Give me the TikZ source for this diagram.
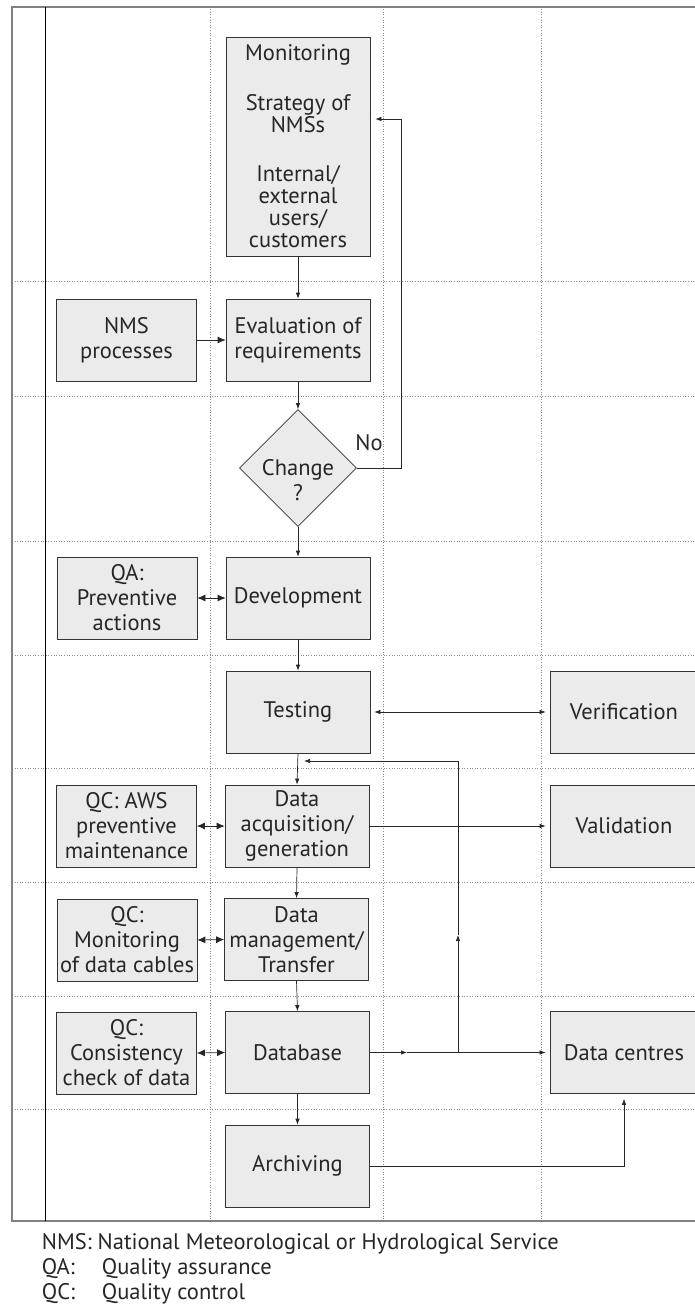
\documentclass[tikz,border=0pt]{standalone}
\usepackage{fontspec}
\setmainfont{PT Sans}
\usepackage{tikz}
\usetikzlibrary{arrows.meta,shapes.geometric}

\begin{document}
\begin{tikzpicture}[x=1pt,y=-1pt,
  box/.style={draw=black!80,fill=black!8,line width=0.7pt,align=center,inner sep=1pt,
    minimum width=144pt,minimum height=82pt,text=black!85,font=\fontsize{22.5}{25}\selectfont},
  sidebox/.style={box,minimum width=140pt},
  decision/.style={draw=black!80,fill=black!8,line width=0.7pt,diamond,aspect=1,
    inner sep=0pt,minimum width=117pt,minimum height=117pt},
  line/.style={draw=black!85,line width=0.7pt},
  arr/.style={line,-{Latex[length=6pt,width=4.5pt]}},
  bigarr/.style={line,-{Latex[length=8pt,width=7pt]}},
  twoway/.style={line,{Latex[length=8pt,width=7pt]}-{Latex[length=8pt,width=7pt]}},
  lane/.style={draw=black!45,dotted,line width=0.6pt},
  frame/.style={draw=black!50,line width=1.8pt},
  plain/.style={inner sep=0pt,align=center,text=black!85,font=\fontsize{22.5}{25}\selectfont},
  legend/.style={inner sep=0pt,anchor=base west,text=black!85,font=\fontsize{22.5}{25}\selectfont}]
\useasboundingbox (0,0) rectangle (695,1308);

\foreach \x in {210.7,383.3,541.5}
  \draw[lane] (\x,6.7) -- (\x,1220.7);
\foreach \y in {281,396,541,655,768.3,882,996,1109.3}
  \draw[lane] (12,\y) -- (695,\y);
\draw[frame] (695,6.7) -- (12,6.7) -- (12,1220.7) -- (695,1220.7);
\draw[line width=1.6pt] (45.3,6.7) -- (45.3,1220.7);

\node[box,minimum height=219pt,font=\fontsize{22.5}{22}\selectfont] (monitor) at (298,146.5)
  {Monitoring\\[28pt]Strategy of\\NMSs\\[27pt]Internal/\\external\\users/\\customers};
\node[box] (evalreq) at (298,340) {Evaluation of\\requirements};
\node[sidebox] (nmsproc) at (126.5,340) {NMS\\processes};
\node[decision] (change) at (298,468) {};
\node[plain,anchor=base] (changetxt) at (298,500) {Change\\?};
\node[box] (develop) at (298,598) {Development};
\node[sidebox] (qaprev) at (127,598) {QA:\\Preventive\\actions};
\node[box] (testing) at (298,712) {Testing};
\node[box,minimum width=148pt] (verif) at (624,712) {Verification};
\node[box] (dataacq) at (297,826) {Data\\acquisition/\\generation};
\node[sidebox] (qcaws) at (126.5,826) {QC: AWS\\preventive\\maintenance};
\node[box,minimum width=148pt] (valid) at (624,826) {Validation};
\node[box] (datamgmt) at (296.5,939.5) {Data\\management/\\Transfer};
\node[sidebox] (qccable) at (127,940) {QC:\\Monitoring\\of data cables};
\node[box] (database) at (297.5,1052.5) {Database};
\node[sidebox] (qccons) at (126.5,1053) {QC:\\Consistency\\check of data};
\node[box,minimum width=148pt] (centres) at (624,1052.5) {Data centres};
\node[box] (archive) at (297.5,1166) {Archiving};

\node[plain] (nolabel) at (369,443) {No};

\coordinate (noturn) at (401,468);
\coordinate (dbarrow) at (407,1052.5);
\coordinate (split) at (458,1052.5);
\coordinate (upmid) at (458,935);
\coordinate (back) at (458,761);

\draw[arr] (monitor.south) -- (evalreq.north);
\draw[bigarr] (nmsproc.east) -- (evalreq.west);
\draw[arr] (evalreq.south) -- (change.north);
\draw[arr,shorten >=5pt] (change.east) -- (noturn) |- ([yshift=27.5pt]monitor.east);
\draw[arr] (change.south) -- (develop.north);
\draw[twoway] (qaprev.east) -- (develop.west);
\draw[arr] (develop.south) -- (testing.north);
\draw[line,{Latex[length=6pt,width=4.5pt]}-{Latex[length=6pt,width=4.5pt]},shorten <=4pt,shorten >=4pt] (testing.east) -- (verif.west);
\draw[arr] (testing.south) -- (dataacq.north);
\draw[twoway] (qcaws.east) -- (dataacq.west);
\draw[arr,shorten >=4pt] (dataacq.east) -- (valid.west);
\draw[arr] (dataacq.south) -- (datamgmt.north);
\draw[twoway] (qccable.east) -- (datamgmt.west);
\draw[arr] (datamgmt.south) -- (database.north);
\draw[twoway] (qccons.east) -- (database.west);
\draw[arr] (database.east) -- (dbarrow);
\draw[arr,shorten >=4pt] (dbarrow) -- (centres.west);
\draw[arr] (split) -- (upmid);
\draw[line] (upmid) -- (back);
\draw[arr,shorten >=6pt] (back) -- (testing.south |- back);
\draw[arr] (database.south) -- (archive.north);
\draw[arr,shorten >=5pt] (archive.east) -| (centres.south);

\node[legend] (legnms) at (41.7,1249) {NMS: National Meteorological or Hydrological Service};
\node[legend] (legqa) at (41.7,1274) {QA:};
\node[legend] (legqatext) at (101.7,1274) {Quality assurance};
\node[legend] (legqc) at (41.7,1299) {QC:};
\node[legend] (legqctext) at (101.7,1299) {Quality control};
\end{tikzpicture}
\end{document}
